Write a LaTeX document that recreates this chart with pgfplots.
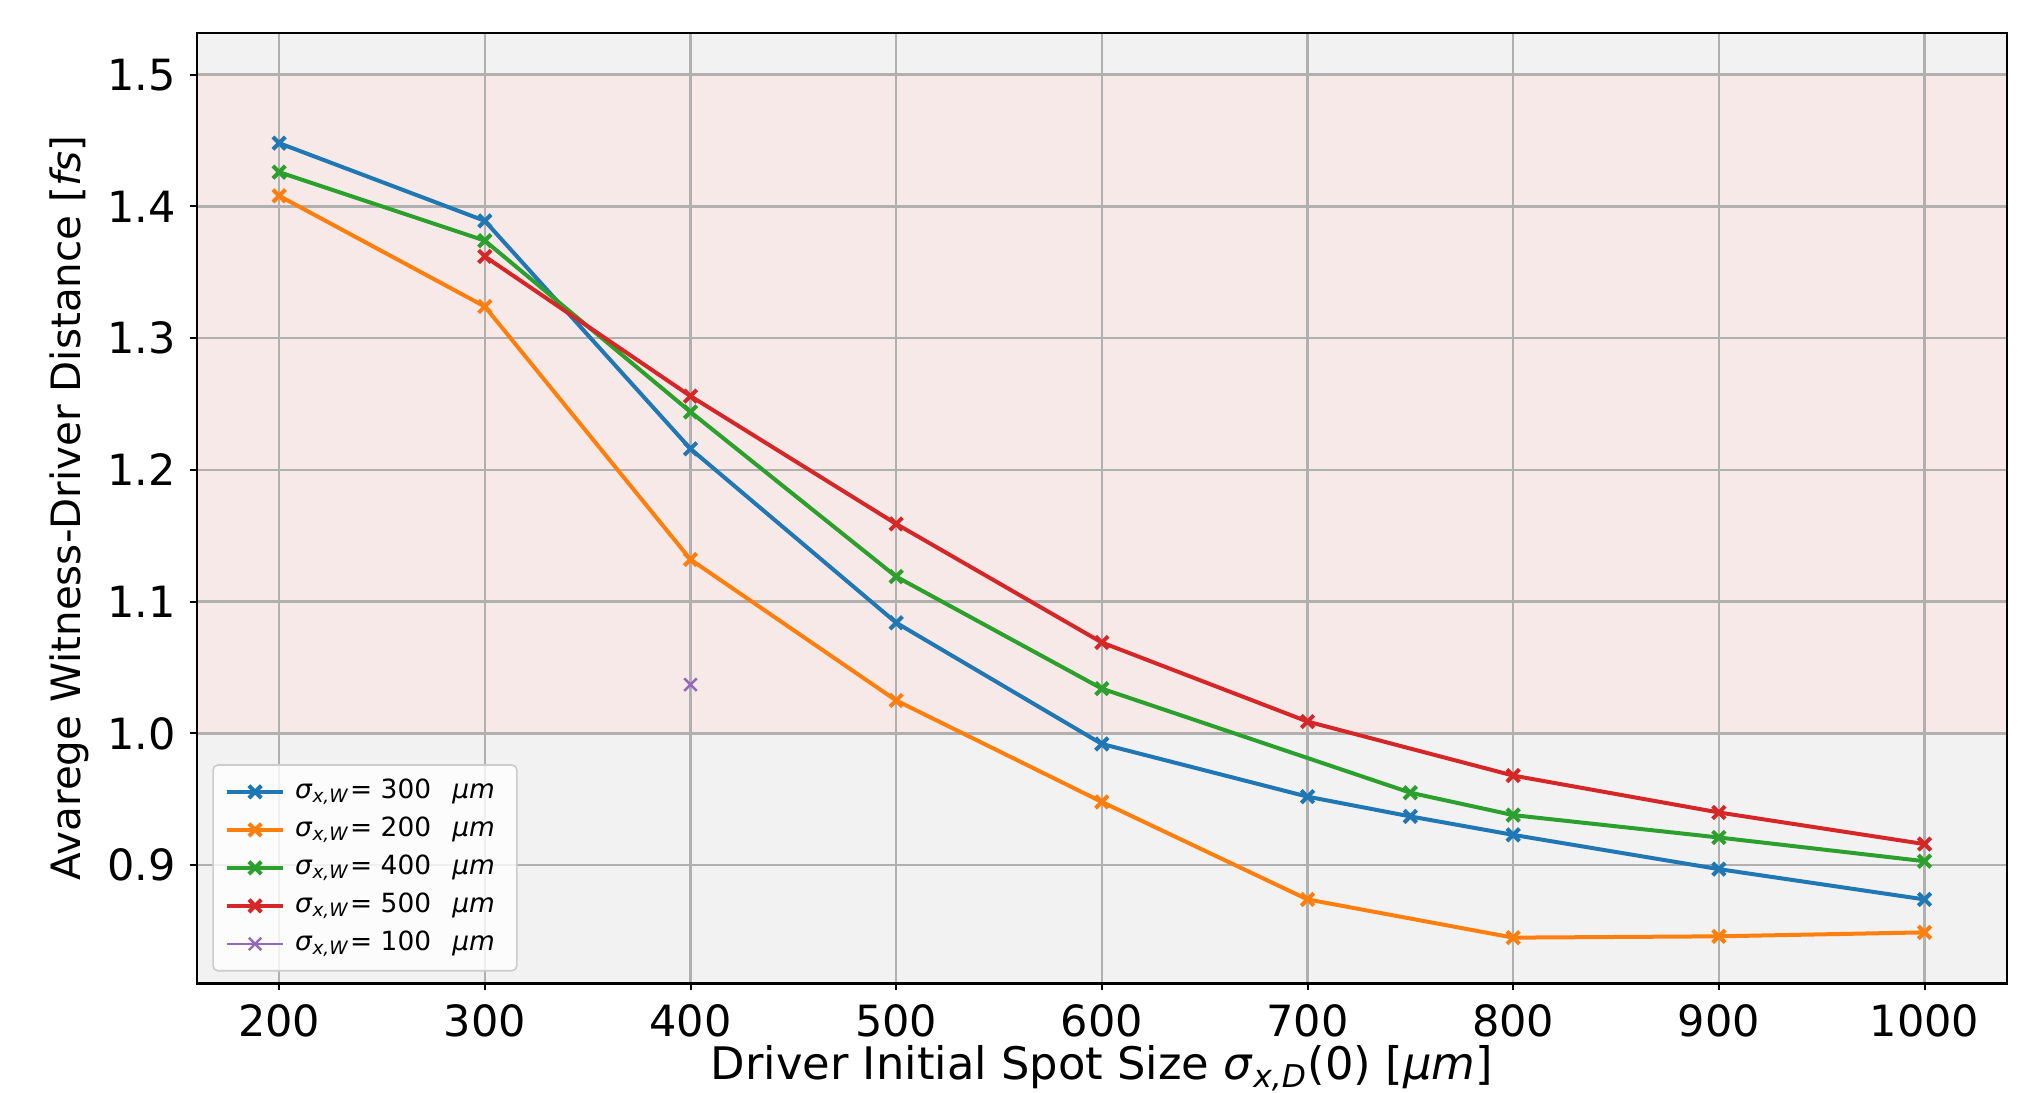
\documentclass[border=0pt]{standalone}
\usepackage{pgfplots}
\pgfplotsset{compat=1.18}
\usepackage{fontspec}
\setmainfont{DejaVu Sans}

\definecolor{tabblue}{HTML}{1F77B4}
\definecolor{taborange}{HTML}{FF7F0E}
\definecolor{tabgreen}{HTML}{2CA02C}
\definecolor{tabred}{HTML}{D62728}
\definecolor{tabpurple}{HTML}{9467BD}
\definecolor{bggray}{HTML}{F2F2F2}
\definecolor{bgpink}{HTML}{F8E9E9}
\definecolor{gridgray}{HTML}{B0B0B0}

\newcommand{\sw}[1]{\textit{σ}\textsubscript{\textit{x,W}}= #1\hspace{0.8em}\textit{μm}}

\begin{document}
\begin{tikzpicture}
\begin{axis}[
    set layers,
    at={(0,0)}, anchor=south west,
    width=452.25pt, height=237.5pt, scale only axis,
    xmin=160, xmax=1040, ymin=0.8102, ymax=1.5316,
    xtick={200,300,400,500,600,700,800,900,1000},
    ytick={0.9,1.0,1.1,1.2,1.3,1.4,1.5},
    xticklabel style={/pgf/number format/.cd, 1000 sep={}},
    yticklabel style={/pgf/number format/.cd, fixed, fixed zerofill, precision=1},
    /pgf/number format/assume math mode=true,
    tick label style={font=\fontsize{10.75}{12}\selectfont},
    xlabel style={font=\fontsize{11.2}{13}\selectfont, yshift=4.7pt},
    ylabel style={font=\fontsize{10.1}{12}\selectfont, yshift=-2.25pt},
    grid=major,
    major grid style={color=gridgray, line width=0.6pt},
    tick align=outside, tick pos=left,
    major tick length=1.75pt,
    tick style={black, line width=0.5pt},
    axis line style={black, line width=0.6pt},
    axis background/.style={fill=bggray},
    xlabel={Driver Initial Spot Size \textit{σ}\textsubscript{\textit{x,D}}(0) [\textit{μm}]},
    ylabel={Avarege Witness-Driver Distance [\textit{fs}]},
    legend cell align=left,
    legend style={at={(0.0085,0.0126)}, anchor=south west,
        draw=gray!40, fill=white, fill opacity=0.8, text opacity=1,
        rounded corners=1.2pt,
        font=\fontsize{6.6}{7.8}\selectfont,
        nodes={inner ysep=1pt, inner xsep=2.5pt},
        row sep=1.1pt, inner xsep=3pt, inner ysep=2.5pt},
    legend image code/.code={\draw[mark repeat=2,mark phase=2] plot coordinates {(0pt,0pt) (7pt,0pt) (14pt,0pt)};},
]
% shaded band between 1.0 and 1.5
\addplot[draw=none, fill=bgpink, forget plot, on layer=axis background] coordinates {
(160,1.0) (1040,1.0) (1040,1.5) (160,1.5)} -- cycle;

\addplot[color=tabblue, line width=1pt, mark=x, mark size=2.2pt] coordinates {
(200,1.448) (300,1.389) (400,1.216) (500,1.084) (600,0.992) (700,0.952) (750,0.937) (800,0.923) (900,0.897) (1000,0.874)};
\addlegendentry{\sw{300}}

\addplot[color=taborange, line width=1pt, mark=x, mark size=2.2pt] coordinates {
(200,1.408) (300,1.324) (400,1.132) (500,1.025) (600,0.948) (700,0.874) (800,0.845) (900,0.846) (1000,0.849)};
\addlegendentry{\sw{200}}

\addplot[color=tabgreen, line width=1pt, mark=x, mark size=2.2pt] coordinates {
(200,1.426) (300,1.374) (400,1.244) (500,1.119) (600,1.034) (750,0.955) (800,0.938) (900,0.921) (1000,0.903)};
\addlegendentry{\sw{400}}

\addplot[color=tabred, line width=1pt, mark=x, mark size=2.2pt] coordinates {
(300,1.362) (400,1.256) (500,1.159) (600,1.069) (700,1.009) (800,0.968) (900,0.940) (1000,0.916)};
\addlegendentry{\sw{500}}

\addplot[color=tabpurple, line width=0.6pt, mark=x, mark size=2.2pt] coordinates {(400,1.037)};
\addlegendentry{\sw{100}}
\end{axis}
\pgfresetboundingbox
\useasboundingbox (-49.2pt,-27.25pt) rectangle (455.55pt,245.75pt);
\end{tikzpicture}
\end{document}
